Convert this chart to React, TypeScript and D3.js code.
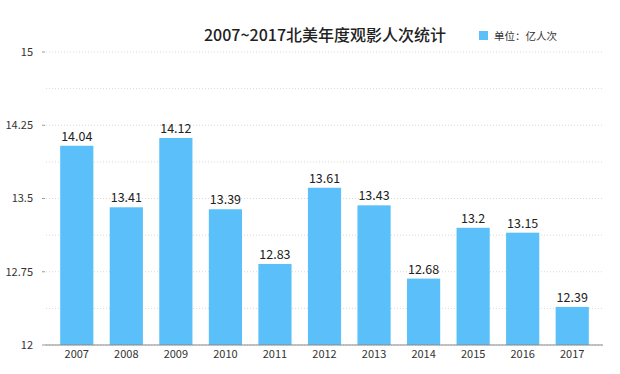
import React from "react"
import * as d3 from "d3"

const years = ["2007", "2008", "2009", "2010", "2011", "2012", "2013", "2014", "2015", "2016", "2017"]
const admissions = [14.04, 13.41, 14.12, 13.39, 12.83, 13.61, 13.43, 12.68, 13.2, 13.15, 12.39]
const yTicks = [12, 12.75, 13.5, 14.25, 15]
const minorTicks = [12.375, 13.125, 13.875, 14.625]

const W = 620
const H = 374
const font = "'Noto Sans CJK SC', 'Noto Sans', sans-serif"

export default function App() {
  const x = d3.scaleBand().domain(years).range([52, 597]).paddingInner(0.33).paddingOuter(0.165)
  const y = d3.scaleLinear().domain([12, 15]).range([345, 52])

  return (
    <svg width={W} height={H} style={{ position: "absolute", left: 0, top: 0, background: "#fff" }} fontFamily={font}>
      {/* сетка */}
      {yTicks.concat(minorTicks).map(t => (
        <line key={"g" + t} x1={46} x2={603} y1={y(t)} y2={y(t)} stroke="#d8d8d8" strokeDasharray="1,2" />
      ))}
      {yTicks.map(t => (
        <g key={"t" + t}>
          <line x1={42} x2={45} y1={y(t)} y2={y(t)} stroke="#999" />
          <text x={33} y={y(t)} dy="0.35em" textAnchor="end" fontSize={11} fill="#333">{t}</text>
        </g>
      ))}
      {years.map((yr, i) => (
        <g key={yr}>
          <rect x={x(yr)} y={y(admissions[i])} width={x.bandwidth()} height={y(12) - y(admissions[i])} fill="#5bc0f9" />
          <text x={x(yr)! + x.bandwidth() / 2} y={y(admissions[i]) - 5} textAnchor="middle" fontSize={12.5} fill="#222">{admissions[i]}</text>
          <text x={x(yr)! + x.bandwidth() / 2} y={358} textAnchor="middle" fontSize={11} fill="#333">{yr}</text>
        </g>
      ))}
      <line x1={45} x2={603} y1={y(12)} y2={y(12)} stroke="#888" />
      <text x={325} y={41} textAnchor="middle" fontSize={16} fontWeight={500} fill="#222">2007~2017北美年度观影人次统计</text>
      <rect x={479} y={31} width={9} height={9} fill="#5bc0f9" />
      <text x={494} y={40} fontSize={10.5} fill="#333">单位：亿人次</text>
    </svg>
  )
}
